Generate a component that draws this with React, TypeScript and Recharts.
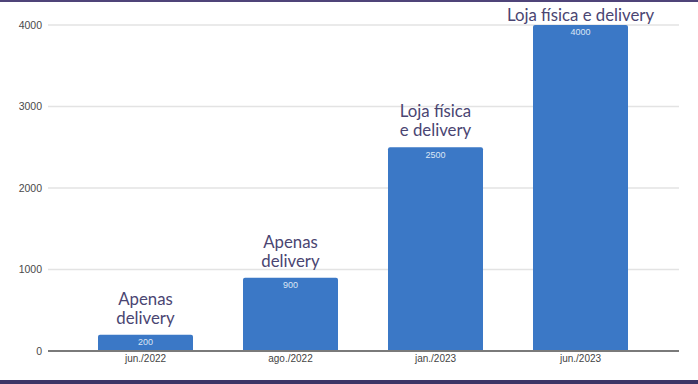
import { BarChart, Bar, XAxis, YAxis, CartesianGrid, LabelList } from 'recharts'

const periods = ['jun./2022', 'ago./2022', 'jan./2023', 'jun./2023']
const customers = [200, 900, 2500, 4000]
const notes = [
  ['Apenas', 'delivery'],
  ['Apenas', 'delivery'],
  ['Loja física', 'e delivery'],
  ['Loja física e delivery'],
]
const yTicks = [0, 1000, 2000, 3000, 4000]

const rows = periods.map((p, i) => ({ period: p, value: customers[i], note: notes[i] }))

const BLUE = '#3b78c6'
const INK = '#4a4572'

function NoteLabel(props: any) {
  const { x, y, width, index } = props
  const lines = notes[index] ?? []
  const cx = x + width / 2
  // last line sits just above the bar, but never runs off the top of the frame
  const base = Math.max(y - 11, 21)
  return (
    <text x={cx} textAnchor="middle" fill={INK} fontFamily="Lato, sans-serif" fontSize={16.8}>
      {lines.map((l, i) => (
        <tspan key={i} x={cx} y={base - (lines.length - 1 - i) * 19}>
          {l}
        </tspan>
      ))}
    </text>
  )
}

export default function App() {
  return (
    <div style={{ position: 'absolute', left: 0, top: 0, width: 698, height: 384, background: '#fff' }}>
      <BarChart width={698} height={384} data={rows} margin={{ top: 25, right: 19, left: 0, bottom: 13 }}>
        <CartesianGrid vertical={false} stroke="#e3e3e3" strokeWidth={1.5} />
        <XAxis
          dataKey="period"
          padding={{ left: 25, right: 26 }}
          axisLine={{ stroke: '#7a7a7a', strokeWidth: 2 }}
          tickLine={false}
          tickSize={4}
          tickMargin={0}
          height={20}
          tick={{ fill: '#444', fontSize: 10, fontFamily: 'Arial, Liberation Sans, sans-serif' }}
        />
        <YAxis
          domain={[0, 4000]}
          ticks={yTicks}
          axisLine={false}
          tickLine={false}
          tickSize={6}
          tickMargin={0}
          width={48}
          tick={{ fill: '#4a4a4a', fontSize: 10.5, fontFamily: 'Arial, Liberation Sans, sans-serif' }}
        />
        <Bar dataKey="value" fill={BLUE} barSize={95} radius={[2, 2, 0, 0]} isAnimationActive={false}>
          <LabelList
            dataKey="value"
            position="insideTop"
            offset={4}
            fill="#dce6f5"
            fontSize={9}
            fontFamily="Arial, Liberation Sans, sans-serif"
          />
          <LabelList dataKey="value" content={<NoteLabel />} />
        </Bar>
      </BarChart>
      <div style={{ position: 'absolute', left: 0, top: 0, width: 698, height: 2, background: '#4f4479' }} />
      <div style={{ position: 'absolute', left: 0, top: 380, width: 698, height: 4, background: '#3d3566' }} />
    </div>
  )
}
